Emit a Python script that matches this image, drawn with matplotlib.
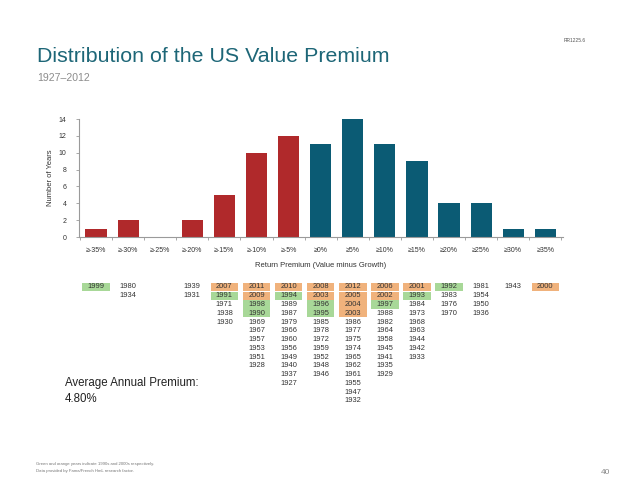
import matplotlib
matplotlib.use("Agg")
import matplotlib.pyplot as plt
from matplotlib.patches import Rectangle

plt.rcParams["font.family"] = ["Liberation Sans", "DejaVu Sans"]

# data
bins = ["≥-35%", "≥-30%", "≥-25%", "≥-20%", "≥-15%", "≥-10%", "≥-5%", "≥0%",
        "≥5%", "≥10%", "≥15%", "≥20%", "≥25%", "≥30%", "≥35%"]
counts = [1, 2, 0, 2, 5, 10, 12, 11, 14, 11, 9, 4, 4, 1, 1]
negative = [True] * 7 + [False] * 8

years = [
    ["1999"],
    ["1980", "1934"],
    [],
    ["1939", "1931"],
    ["2007", "1991", "1971", "1938", "1930"],
    ["2011", "2009", "1998", "1990", "1969", "1967", "1957", "1953", "1951", "1928"],
    ["2010", "1994", "1989", "1987", "1979", "1966", "1960", "1956", "1949", "1940", "1937", "1927"],
    ["2008", "2003", "1996", "1995", "1985", "1978", "1972", "1959", "1952", "1948", "1946"],
    ["2012", "2005", "2004", "2003", "1986", "1977", "1975", "1974", "1965", "1962", "1961", "1955", "1947", "1932"],
    ["2006", "2002", "1997", "1988", "1982", "1964", "1958", "1945", "1941", "1935", "1929"],
    ["2001", "1993", "1984", "1973", "1968", "1963", "1944", "1942", "1933"],
    ["1992", "1983", "1976", "1970"],
    ["1981", "1954", "1950", "1936"],
    ["1943"],
    ["2000"],
]

RED = "#B0292B"
TEAL = "#0B5B74"
GREEN = "#A8D898"
ORANGE = "#F0B27C"
GRAY = "#9A9A9A"

W, H = 638, 493
fig = plt.figure(figsize=(W / 100, H / 100), dpi=100)


def fx(px):
    return px / W


def fy(py):
    return 1 - py / H


# main chart
ax = fig.add_axes([fx(79), fy(237), fx(563) - fx(79), fy(119) - fy(237)])
x = list(range(len(bins)))
ax.bar(x, counts, width=0.66, color=[RED if n else TEAL for n in negative])
ax.set_xlim(-0.53, len(bins) - 0.45)
ax.set_ylim(0, 14)
ax.set_yticks(range(0, 15, 2))
ax.set_xticks(x)
ax.set_xticklabels(bins)
ax.set_xticks([i + 0.5 for i in range(-1, len(bins))], minor=True)
ax.tick_params(axis="x", which="major", length=0, labelsize=5, pad=7, colors="#333333")
ax.tick_params(axis="x", which="minor", length=2, width=0.6, color=GRAY)
ax.tick_params(axis="y", length=2, width=0.6, color=GRAY, labelsize=5, pad=7, labelcolor="#333333")
for s in ["top", "right"]:
    ax.spines[s].set_visible(False)
for s in ["left", "bottom"]:
    ax.spines[s].set_color(GRAY)
    ax.spines[s].set_linewidth(0.8)
ax.set_ylabel("Number of Years", fontsize=5.5, color="#333333", labelpad=3)
ax.set_xlabel("Return Premium (Value minus Growth)", fontsize=5.5, color="#333333", labelpad=6)

# year table
row_h = 8.77
n_rows = 14
tab = fig.add_axes([fx(79), fy(282.6 + n_rows * row_h), fx(563) - fx(79), n_rows * row_h / H])
tab.set_xlim(ax.get_xlim())
tab.set_ylim(n_rows - 0.5, -0.5)
tab.axis("off")
for i, col in enumerate(years):
    for r, yr in enumerate(col):
        fc = GREEN if yr.startswith("199") else ORANGE if yr.startswith("20") else None
        if fc:
            tab.add_patch(Rectangle((i - 0.43, r - 0.46), 0.86, 0.92, facecolor=fc, edgecolor="none"))
        tab.text(i, r, yr, ha="center", va="center", fontsize=5.4, color="#333333")

# titles and notes
fig.text(fx(37), fy(62), "Distribution of the US Value Premium", fontsize=15.4,
         color="#1D6677", va="baseline")
fig.text(fx(37), fy(81), "1927–2012", fontsize=7.6, color="#8C8C8C", va="baseline")
fig.text(fx(586), fy(42), "RR1225.6", fontsize=3.5, color="#555555", ha="right", va="baseline")
fig.text(fx(65), fy(386), "Average Annual Premium:", fontsize=8.3, color="#222222", va="baseline")
fig.text(fx(65), fy(402), "4.80%", fontsize=8.3, color="#222222", va="baseline")
fig.text(fx(36), fy(465), "Green and orange years indicate 1990s and 2000s respectively.",
         fontsize=3.1, color="#777777", va="baseline")
fig.text(fx(36), fy(472), "Data provided by Fama/French HmL research factor.",
         fontsize=3.1, color="#777777", va="baseline")
fig.text(fx(610), fy(474), "40", fontsize=6, color="#888888", ha="right", va="baseline")

fig.savefig("out.png", dpi=100)
